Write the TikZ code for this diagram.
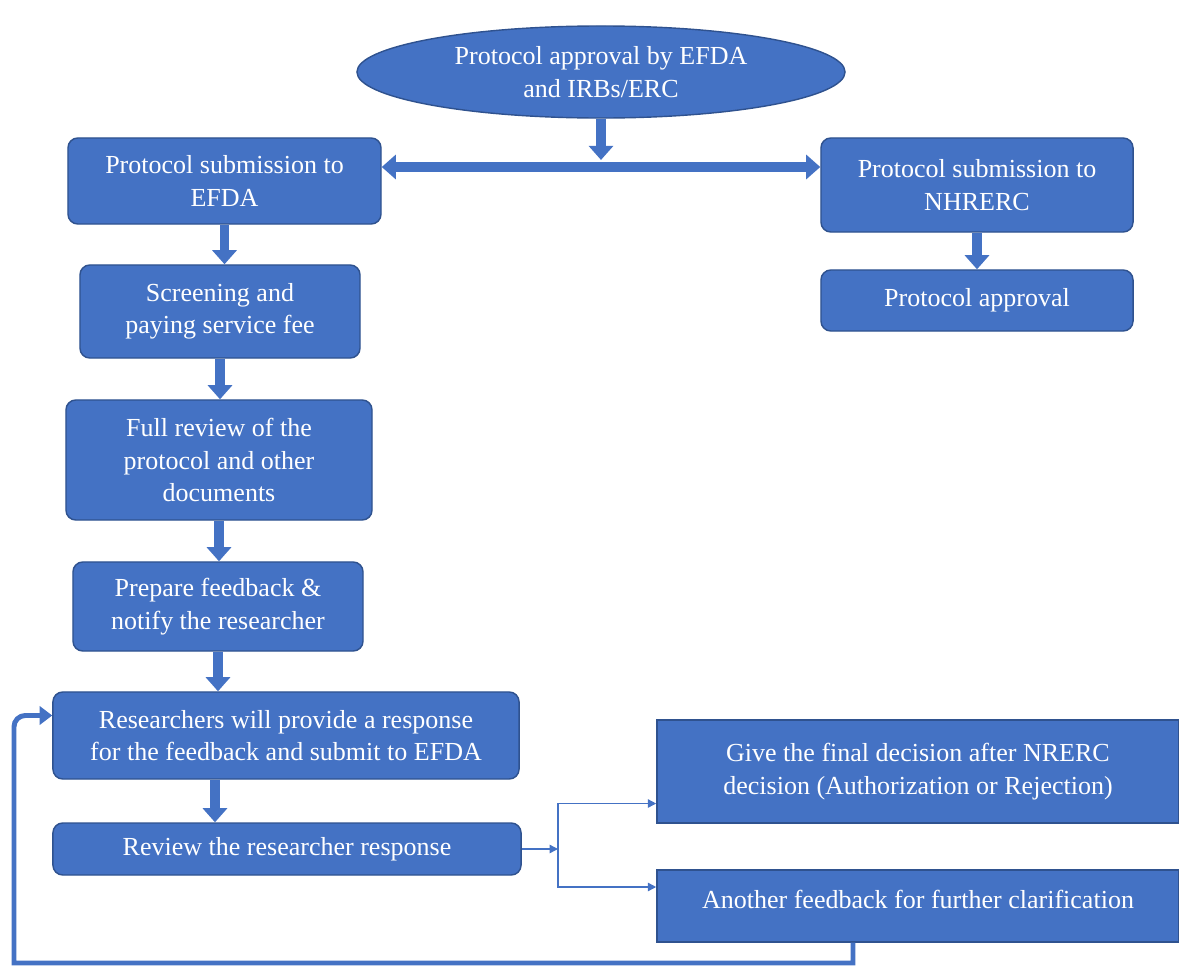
\documentclass[tikz,border=0pt]{standalone}
\usepackage{fontspec}
\setmainfont{LiberationSerif-Regular.ttf}
\usetikzlibrary{shapes.geometric,arrows.meta}
\definecolor{boxblue}{HTML}{4472C4}
\definecolor{edgeblue}{HTML}{2F528F}

\begin{document}
\begin{tikzpicture}[x=0.025cm, y=-0.025cm,
  box/.style = {draw=edgeblue, line width=1pt, fill=boxblue, text=white, rounded corners=7pt, align=center, inner sep=2pt, font=\rmfamily\fontsize{18.5}{23}\selectfont},
  sqbox/.style = {box, rounded corners=0pt},
  oval/.style = {box, ellipse, inner sep=0pt},
  fat/.style = {draw=boxblue, line width=7pt, -{Triangle[length=10pt,width=17pt]}},
  fatboth/.style = {fat, {Triangle[length=10pt,width=17pt]}-{Triangle[length=10pt,width=17pt]}},
  thin/.style = {draw=boxblue, line width=1pt, -{Triangle[length=6pt,width=6pt]}},
  back/.style = {draw=boxblue, line width=3.5pt, -{Triangle[length=9pt,width=13pt]}}]
\useasboundingbox (0,0) rectangle (1179,967);

\node[oval, minimum width=12.2cm, minimum height=2.3cm] (top) at (601,72) {Protocol approval by EFDA\\and IRBs/ERC};
\node[box, minimum width=7.825cm, minimum height=2.15cm] (efda) at (224.5,181) {Protocol submission to\\EFDA};
\node[box, minimum width=7.8cm, minimum height=2.35cm] (nhrerc) at (977,185) {Protocol submission to\\NHRERC};
\node[box, minimum width=7.8cm, minimum height=1.525cm] (approval) at (977,300.5) {Protocol approval};
\node[box, minimum width=7cm, minimum height=2.325cm] (screen) at (220,311.5) {Screening and\\paying service fee};
\node[box, minimum width=7.65cm, minimum height=3cm] (full) at (219,460) {Full review of the\\protocol and other\\documents};
\node[box, minimum width=7.25cm, minimum height=2.225cm] (prep) at (218,606.5) {Prepare feedback \&\\notify the researcher};
\node[box, minimum width=11.65cm, minimum height=2.175cm] (resp) at (286,735.5) {Researchers will provide a response\\for the feedback and submit to EFDA};
\node[box, minimum width=11.7cm, minimum height=1.3cm] (review) at (287,849) {Review the researcher response};
\node[sqbox, minimum width=13.05cm, minimum height=2.575cm] (final) at (918,771.5) {Give the final decision after NRERC\\decision (Authorization or Rejection)};
\node[sqbox, minimum width=13.05cm, minimum height=1.8cm, text depth=10pt] (another) at (918,906) {Another feedback for further clarification};

\coordinate (bar) at (600,167);
\coordinate (split) at (558,849);
\coordinate (low) at (853,963);
\coordinate (corner) at (14,963);

% top part
\draw[fat] (top.south) -- ([yshift=5pt]top.south |- bar);
\draw[fatboth] (efda.east |- bar) -- (nhrerc.west |- bar);
\draw[fat] (nhrerc.south) -- (nhrerc.south |- approval.north);

% left column
\draw[fat] (efda.south) -- (efda.south |- screen.north);
\draw[fat] (screen.south) -- (screen.south |- full.north);
\draw[fat] (full.south) -- (full.south |- prep.north);
\draw[fat] (prep.south) -- (prep.south |- resp.north);
\draw[fat] ([xshift=-1.775cm]resp.south) -- ([xshift=-1.775cm]resp.south |- review.north);

% decision
\draw[thin] (review.east) -- (split);
\draw[thin] (split) |- ([yshift=-0.8cm]final.west);
\draw[thin] (split) |- ([yshift=0.475cm]another.west);

% loop back
\draw[back] (another.south -| low) -- (low) -- (corner) -- (14,730) [rounded corners=8pt] |- ([yshift=0.5cm]resp.west);
\end{tikzpicture}
\end{document}
